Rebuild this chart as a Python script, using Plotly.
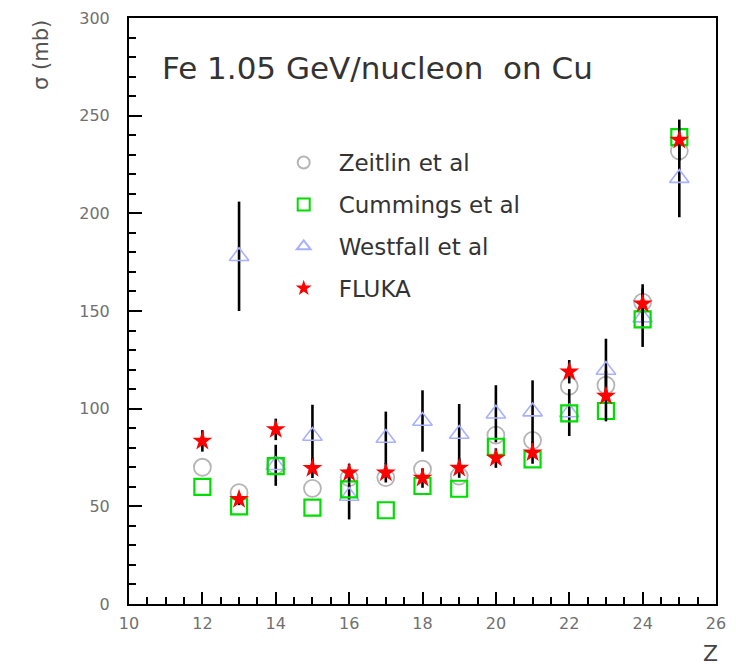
import plotly.graph_objects as go

# ---- data ----
z_zeitlin = [12, 13, 14, 15, 16, 17, 18, 19, 20, 21, 22, 23, 24, 25]
sig_zeitlin = [70, 57, 71, 59.2, 64.7, 64.7, 69, 65.5, 86.5, 83.8, 111.6, 112, 154.5, 232]

z_cummings = [12, 13, 14, 15, 16, 17, 18, 19, 20, 21, 22, 23, 24, 25]
sig_cummings = [60, 50, 70.6, 49.3, 58.7, 48, 60.4, 59, 80.5, 74, 97.6, 98.8, 145.7, 239]

z_westfall = [13, 14, 15, 16, 17, 18, 19, 20, 21, 22, 23, 24, 25]
sig_westfall = [178, 71, 86, 55.3, 85, 93.7, 87, 97.4, 98.5, 98, 119.8, 146.6, 218]
err_westfall = [28, 10.5, 16, 12, 13.5, 15.7, 15.4, 14.6, 16, 12, 16, 15, 20]

z_fluka = [12, 13, 14, 15, 16, 17, 18, 19, 20, 21, 22, 23, 24, 25]
sig_fluka = [83.5, 53.6, 89.4, 69.5, 67.2, 67.2, 64.5, 69.6, 74.7, 77.5, 118.9, 106.5, 153.7, 237.5]
err_fluka = [5.5, 3, 5.5, 5, 4.6, 5, 5, 5, 5, 5.7, 6, 13, 10, 10.5]

x_ticks = [10, 12, 14, 16, 18, 20, 22, 24, 26]
y_ticks = [0, 50, 100, 150, 200, 250, 300]

FONT = "DejaVu Sans"

fig = go.Figure()

fig.add_trace(go.Scatter(
    x=z_zeitlin, y=sig_zeitlin, mode="markers", name="Zeitlin et al",
    legendgroup="a", legendrank=1,
    marker=dict(symbol="circle-open", size=17, color="#b5b5b5", line=dict(width=1.8)),
))
fig.add_trace(go.Scatter(
    x=z_westfall, y=sig_westfall, mode="markers", name="Westfall et al",
    legendgroup="c", legendrank=3,
    marker=dict(symbol="triangle-up-open", size=17, color="#a9b0ff", line=dict(width=1.6)),
    error_y=dict(type="data", array=err_westfall, color="black", thickness=2.6, width=0),
))
fig.add_trace(go.Scatter(
    x=z_cummings, y=sig_cummings, mode="markers", name="Cummings et al",
    legendgroup="b", legendrank=2,
    marker=dict(symbol="square-open", size=16, color="#00dd00", line=dict(width=2.2)),
))
fig.add_trace(go.Scatter(
    x=z_fluka, y=sig_fluka, mode="markers", name="FLUKA",
    legendgroup="d", legendrank=4,
    marker=dict(symbol="star", size=15, color="#ff0000", line=dict(width=0)),
    error_y=dict(type="data", array=err_fluka, color="black", thickness=2.6, width=0),
))

axis_common = dict(
    showline=True, linecolor="black", linewidth=2, mirror=True,
    ticks="inside", tickcolor="black", tickwidth=2,
    showgrid=False, zeroline=False, automargin=False,
    tickfont=dict(family=FONT, size=16, color="#707070"),
)

fig.update_xaxes(
    range=[10, 26], tickvals=x_ticks, ticklen=12, ticklabelstandoff=4,
    minor=dict(dtick=0.5, ticks="inside", ticklen=7, tickwidth=2, tickcolor="black"),
    **axis_common,
)
fig.update_yaxes(
    range=[0, 300], tickvals=y_ticks, ticklen=13, ticklabelstandoff=14,
    minor=dict(dtick=10, ticks="inside", ticklen=7, tickwidth=2, tickcolor="black"),
    **axis_common,
)

fig.add_annotation(
    text="Fe 1.05 GeV/nucleon\u00a0 on Cu", xref="paper", yref="paper",
    x=0.052, y=0.915, xanchor="left", yanchor="middle", showarrow=False,
    font=dict(family=FONT, size=31, color="#333333"),
)
fig.add_annotation(
    text="σ (mb)", xref="paper", yref="paper", textangle=-90,
    x=-0.15, y=1.0, xanchor="center", yanchor="top", showarrow=False,
    font=dict(family=FONT, size=21, color="#555555"),
)
fig.add_annotation(
    text="Z", xref="paper", yref="paper",
    x=0.991, y=-0.084, xanchor="center", yanchor="middle", showarrow=False,
    font=dict(family=FONT, size=22, color="#444444"),
)

fig.update_layout(
    width=736, height=665,
    margin=dict(l=121, r=28, t=10, b=69),
    paper_bgcolor="white", plot_bgcolor="white",
    showlegend=True,
    legend=dict(
        x=0.238, y=0.79, xanchor="left", yanchor="top",
        bgcolor="rgba(0,0,0,0)", borderwidth=0,
        font=dict(family=FONT, size=23, color="#333333"),
        itemsizing="constant", itemwidth=60, tracegroupgap=9,
    ),
)

fig.write_html("out.html")
